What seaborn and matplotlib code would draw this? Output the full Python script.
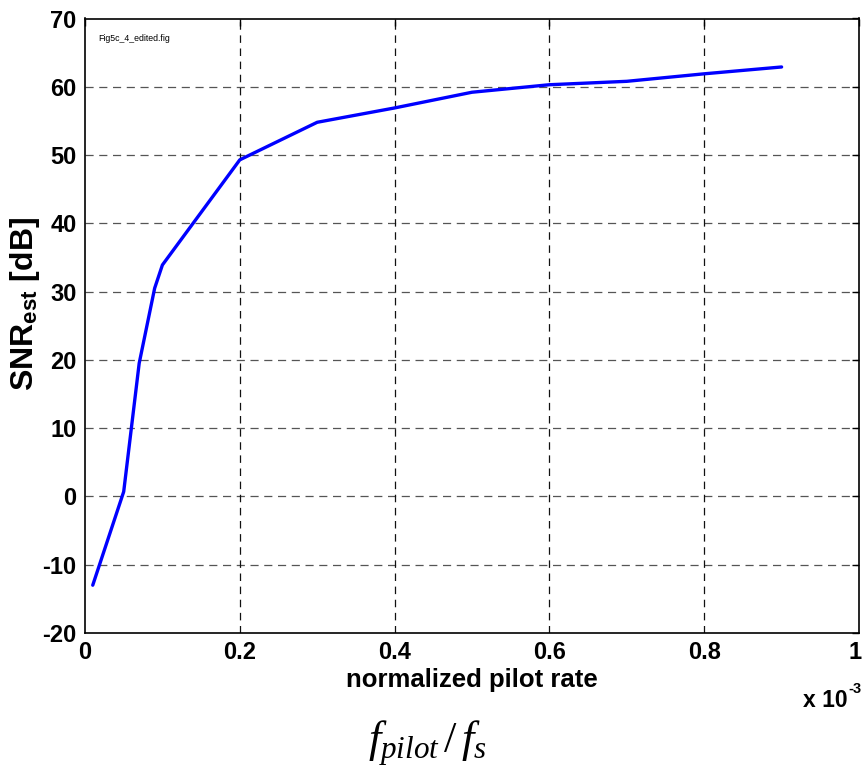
import matplotlib
matplotlib.use("Agg")
import matplotlib.pyplot as plt
import matplotlib.transforms as mtransforms
import seaborn as sns
import pandas as pd

# data (x in units of 1e-3)
pilot_rate = [0.01, 0.05, 0.07, 0.09, 0.1, 0.2, 0.3, 0.4, 0.5, 0.6, 0.7, 0.8, 0.9]
snr_est = [-13.0, 0.7, 19.5, 30.5, 33.9, 49.3, 54.8, 56.9, 59.2, 60.3, 60.8, 61.9, 62.9]
x_ticks = [0, 0.2, 0.4, 0.6, 0.8, 1]
x_tick_labels = ["0", "0.2", "0.4", "0.6", "0.8", "1"]
y_ticks = [-20, -10, 0, 10, 20, 30, 40, 50, 60, 70]

sns.set_style("white")
plt.rcParams["font.family"] = ["Liberation Sans", "DejaVu Sans"]
plt.rcParams["axes.unicode_minus"] = False
plt.rcParams["text.color"] = "black"
plt.rcParams["axes.labelcolor"] = "black"
plt.rcParams["xtick.color"] = "black"
plt.rcParams["ytick.color"] = "black"
plt.rcParams["mathtext.fontset"] = "custom"
plt.rcParams["mathtext.rm"] = "Liberation Serif"
plt.rcParams["mathtext.it"] = "Liberation Serif:italic"
plt.rcParams["mathtext.bf"] = "Liberation Sans:bold"

df = pd.DataFrame({"rate": pilot_rate, "snr": snr_est})

fig = plt.figure(figsize=(8.63, 7.70), dpi=100)
ax = fig.add_axes([85 / 863, 1 - 633 / 770, (859 - 85) / 863, (633 - 18.5) / 770])

sns.lineplot(data=df, x="rate", y="snr", ax=ax, color="#0000ff", linewidth=2.4,
             sort=False, estimator=None)

ax.set_xlim(0, 1)
ax.set_ylim(-20, 70)
ax.set_xticks(x_ticks)
ax.set_xticklabels(x_tick_labels)
ax.set_yticks(y_ticks)

for y in y_ticks[1:-1]:
    ax.axhline(y, color="#555555", lw=0.9, dashes=(6.5, 4.5), zorder=0)
for x in x_ticks[1:-1]:
    ax.axvline(x, color="#111111", lw=0.9, dashes=(6.0, 4.5), zorder=0)

for s in ax.spines.values():
    s.set_color("black")
    s.set_linewidth(1.2)

ax.tick_params(direction="in", length=5, width=1, top=True, right=True,
               labelsize=17, pad=6, colors="black")
for lab in ax.get_xticklabels() + ax.get_yticklabels():
    lab.set_fontweight("bold")
    lab.set_color("black")
last = ax.get_xticklabels()[-1]
last.set_transform(last.get_transform() +
                   mtransforms.ScaledTranslation(-4 / 100, 0, fig.dpi_scale_trans))

ax.set_xlabel("normalized pilot rate", fontsize=18.5, fontweight="bold", labelpad=3,
              color="black")
ax.set_ylabel(r"SNR$_{\mathbf{est}}$ [dB]", fontsize=23, fontweight="bold",
              color="black")
ax.yaxis.set_label_coords(-0.056, 0.535)

ax.text(0.017, 0.975, "Fig5c_4_edited.fig", transform=ax.transAxes, fontsize=6.3,
        va="top", ha="left", color="black")

fig.text(848 / 863, 1 - 707 / 770, "x 10", fontsize=16.5,
         fontweight="bold", ha="right", va="baseline", color="black")
fig.text(848 / 863, 1 - 693 / 770, "-3", fontsize=10.5,
         fontweight="bold", ha="left", va="baseline", color="black")

fig.text(428 / 863, 1 - 753 / 770, r"$f_{pilot}\,/\,f_s$", fontsize=32,
         ha="center", va="baseline", color="black")

fig.savefig("out.png", dpi=100)
